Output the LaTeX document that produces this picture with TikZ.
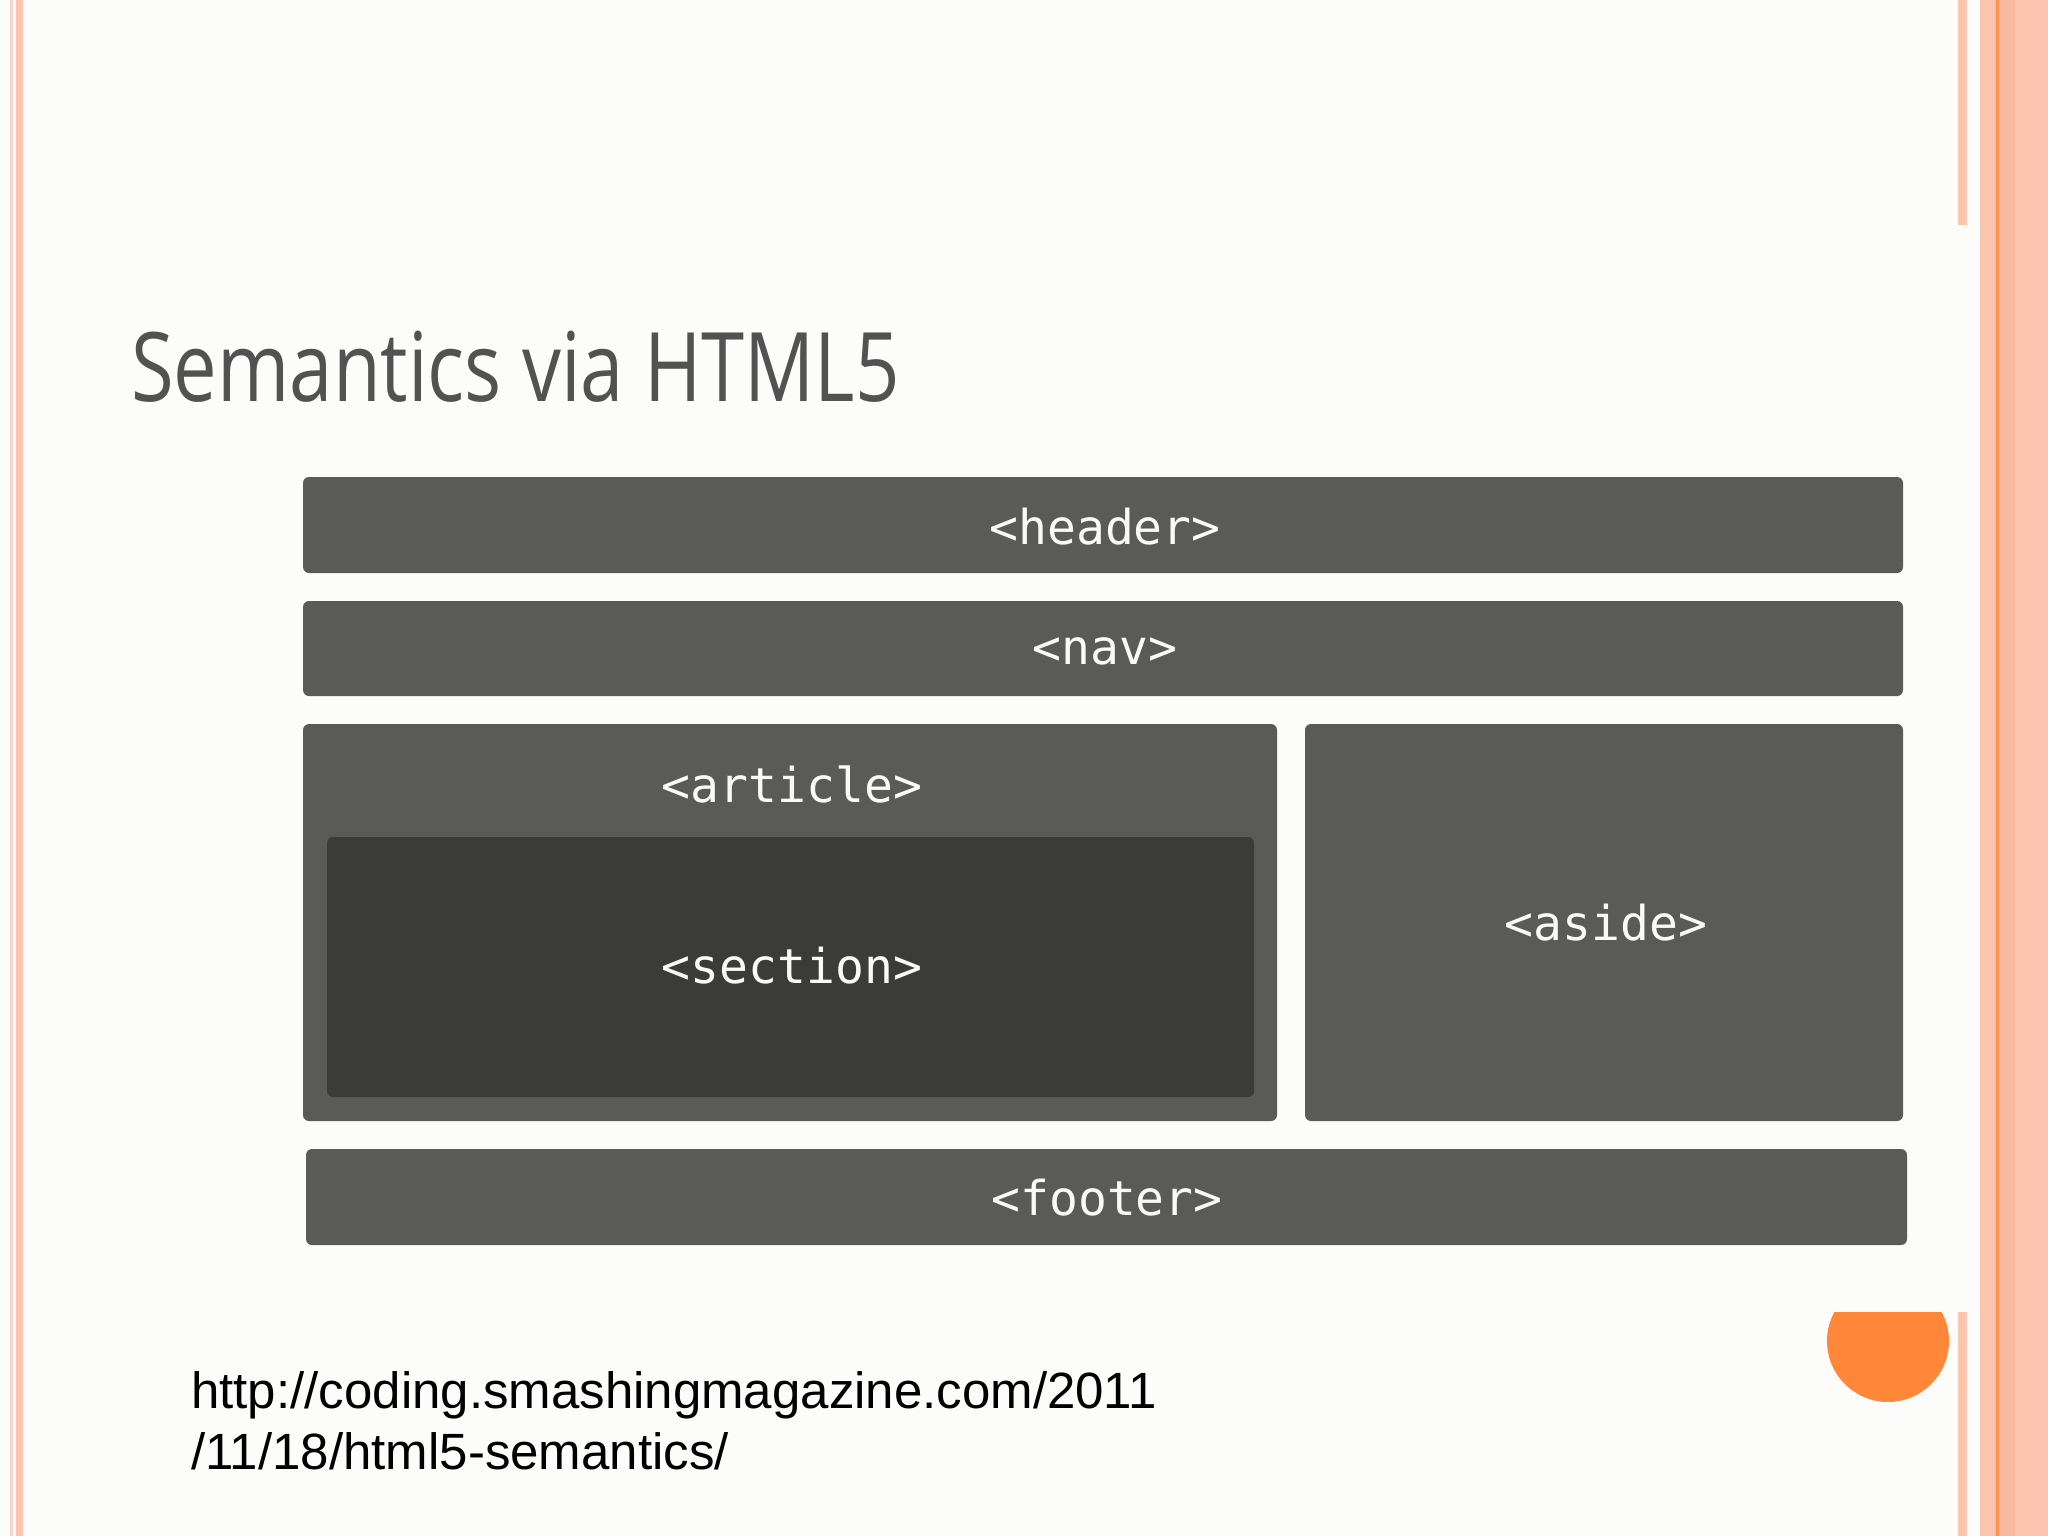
\documentclass[tikz,border=0pt]{standalone}
\usepackage{fontspec}
\setmainfont{Liberation Sans}
\newfontfamily\boxfont{DejaVu Sans Mono}
\newfontfamily\titlefont{Open Sans}
\definecolor{bg}{HTML}{FCFCFA}
\definecolor{pinkl}{HTML}{FDD5C8}
\definecolor{pink}{HTML}{FCC5B0}
\definecolor{pinkd}{HTML}{F9B9A0}
\definecolor{orng}{HTML}{FF8838}
\definecolor{boxc}{HTML}{5A5B58}
\definecolor{secc}{HTML}{3B3C3A}
\begin{document}
\begin{tikzpicture}[x=1pt,y=-1pt,
  blk/.style={fill=boxc,rounded corners=6pt},
  lbl/.style={text=white!95!gray,font=\boxfont\fontsize{48}{54}\selectfont}]
\useasboundingbox (0,0) rectangle (2048,1536);
\fill[bg] (0,0) rectangle (2048,1536);
% left stripes
\fill[pinkl] (10,0) rectangle (13,1536);
\fill[pink] (16,0) rectangle (23,1536);
% right stripes
\fill[pink] (1958,0) rectangle (1967,225);
\fill[pink] (1958,1312) rectangle (1967,1536);
\fill[pink] (1980,0) rectangle (2048,1536);
\fill[pinkd] (1995,0) rectangle (2015,1536);
\fill[orng!80!pink] (1996,0) rectangle (1999,1536);
% circle
\begin{scope}
\clip (1800,1312) rectangle (1960,1420);
\fill[orng] (1888,1341) circle (61);
\end{scope}
% title
\node[anchor=base west,inner sep=0,xscale=0.81,text=black!68,font=\titlefont\fontsize{96}{110}\selectfont] (title) at (131,401) {Semantics via HTML5};
% boxes
\fill[blk] (303,477) rectangle (1903,573);
\node[lbl] (header) at (1105,527) {<header>};
\fill[blk] (303,601) rectangle (1903,696);
\node[lbl] (nav) at (1105,651) {<nav>};
\fill[blk] (303,724) rectangle (1277,1121);
\node[lbl] (article) at (792,784) {<article>};
\fill[secc,rounded corners=6pt] (327,837) rectangle (1254,1097);
\node[lbl] (section) at (792,966) {<section>};
\fill[blk] (1305,724) rectangle (1903,1121);
\node[lbl] (aside) at (1606,923) {<aside>};
\fill[blk] (306,1149) rectangle (1907,1245);
\node[lbl] (footer) at (1107,1198) {<footer>};
% url
\node[anchor=base west,inner sep=0,font=\fontsize{51}{60}\selectfont] (url1) at (191,1408) {http://coding.smashingmagazine.com/2011};
\node[anchor=base west,inner sep=0,font=\fontsize{51}{60}\selectfont] (url2) at (191,1469) {/11/18/html5-semantics/};
\end{tikzpicture}
\end{document}
